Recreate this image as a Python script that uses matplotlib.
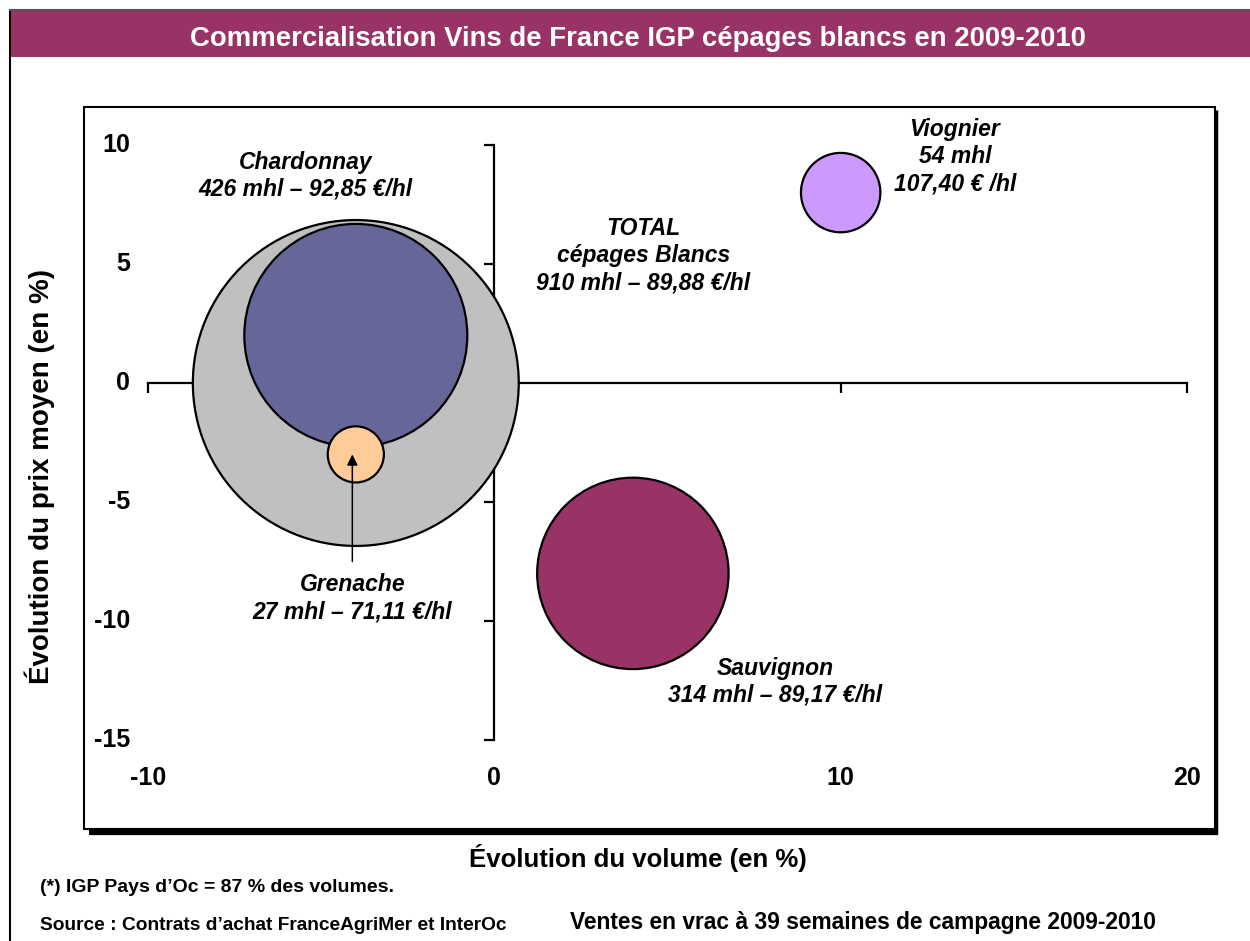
import matplotlib
matplotlib.use("Agg")
import matplotlib.pyplot as plt
from matplotlib.patches import Rectangle
from matplotlib.lines import Line2D

plt.rcParams['font.family'] = ['Liberation Sans', 'DejaVu Sans']

# data
noms = ["TOTAL", "Chardonnay", "Grenache", "Sauvignon", "Viognier"]
evol_volume = [-4, -4, -4, 4, 10]
evol_prix = [0, 2, -3, -8, 8]
volumes_mhl = [910, 426, 27, 314, 54]
couleurs = ["#C0C0C0", "#666699", "#FFCC99", "#993366", "#CC99FF"]
etiquettes = [
    "TOTAL\ncépages Blancs\n910 mhl – 89,88 €/hl",
    "Chardonnay\n426 mhl – 92,85 €/hl",
    "Grenache\n27 mhl – 71,11 €/hl",
    "Sauvignon\n314 mhl – 89,17 €/hl",
    "Viognier\n54 mhl\n107,40 € /hl",
]
# label positions (data coords)
etiq_x = [4.3, -5.45, -4.1, 8.1, 13.3]
etiq_y = [5.35, 8.7, -9.05, -12.55, 9.5]
xticks = [-10, 0, 10, 20]
yticks = [-15, -10, -5, 0, 5, 10]

W, H = 1250, 941
fig = plt.figure(figsize=(W / 100, H / 100), dpi=100)

def fx(px):
    return px / W

def fy(py):
    return 1 - py / H

# outer frame
fig.add_artist(Line2D([fx(10), fx(10)], [fy(10), 0], color="black", lw=1.5))
fig.add_artist(Line2D([fx(10), 1], [fy(10), fy(10)], color="#555555", lw=1.5))

# title bar
fig.add_artist(Rectangle((fx(11), fy(57)), 1 - fx(11), fy(11) - fy(57),
                         facecolor="#993366", edgecolor="none"))
fig.text(fx(638), fy(39.5), "Commercialisation Vins de France IGP cépages blancs en 2009-2010",
         color="white", fontsize=19.8, fontweight="bold", ha="center", va="center")

# plot box with shadow
fig.add_artist(Line2D([fx(89), fx(1218)], [fy(832), fy(832)], color="black", lw=4.5,
                      solid_capstyle="butt"))
fig.add_artist(Line2D([fx(1216), fx(1216)], [fy(110), fy(834)], color="black", lw=2.5,
                      solid_capstyle="butt"))
fig.add_artist(Rectangle((fx(84), fy(829)), fx(1215) - fx(84), fy(107) - fy(829),
                         facecolor="none", edgecolor="black", lw=1.5))

ax = fig.add_axes([fx(148), fy(740), fx(1187) - fx(148), fy(145) - fy(740)])
ax.set_facecolor("none")
ax.set_xlim(-10, 20)
ax.set_ylim(-15, 10)

for s in ["top", "right"]:
    ax.spines[s].set_visible(False)
ax.spines["left"].set_position(("data", 0))
ax.spines["bottom"].set_position(("data", 0))
for s in ["left", "bottom"]:
    ax.spines[s].set_linewidth(1.6)
ax.set_xticks(xticks)
ax.set_yticks(yticks)
ax.tick_params(labelleft=False, labelbottom=False, length=7, width=1.6, direction="out")

# bubbles
ax.scatter(evol_volume, evol_prix, s=[v * 60.5 for v in volumes_mhl], c=couleurs,
           edgecolors="black", linewidths=1.6, zorder=3, clip_on=False)

for t, x, y in zip(etiquettes, etiq_x, etiq_y):
    ax.text(x, y, t, ha="center", va="center", fontsize=16.5, fontweight="bold",
            fontstyle="italic", linespacing=1.22, zorder=5)

ax.annotate("", xy=(evol_volume[2] - 0.1, evol_prix[2]), xytext=(evol_volume[2] - 0.1, -7.5),
            arrowprops=dict(arrowstyle="-|>", color="black", lw=1.1, mutation_scale=16,
                            shrinkA=0, shrinkB=0), zorder=6)

# tick labels at the low position
for v in yticks:
    ax.text(-0.017, v, str(v), transform=ax.get_yaxis_transform(), ha="right", va="center",
            fontsize=18, fontweight="bold")
for v in xticks:
    ax.text(v, -0.064, str(v), transform=ax.get_xaxis_transform(), ha="center", va="center",
            fontsize=18, fontweight="bold")

fig.text(fx(40), fy(476), "Évolution du prix moyen (en %)", rotation=90, ha="center",
         va="center", fontsize=20, fontweight="bold")
fig.text(fx(638), fy(858), "Évolution du volume (en %)", ha="center", va="center",
         fontsize=18.5, fontweight="bold")

fig.text(fx(40), fy(888), "(*) IGP Pays d’Oc = 87 % des volumes.", ha="left", va="center",
         fontsize=14, fontweight="bold")
fig.text(fx(40), fy(925), "Source : Contrats d’achat FranceAgriMer et InterOc", ha="left",
         va="center", fontsize=13.8, fontweight="bold")
fig.text(fx(863), fy(923), "Ventes en vrac à 39 semaines de campagne 2009-2010", ha="center",
         va="center", fontsize=16.4, fontweight="bold")

fig.savefig("out.png", dpi=100)
